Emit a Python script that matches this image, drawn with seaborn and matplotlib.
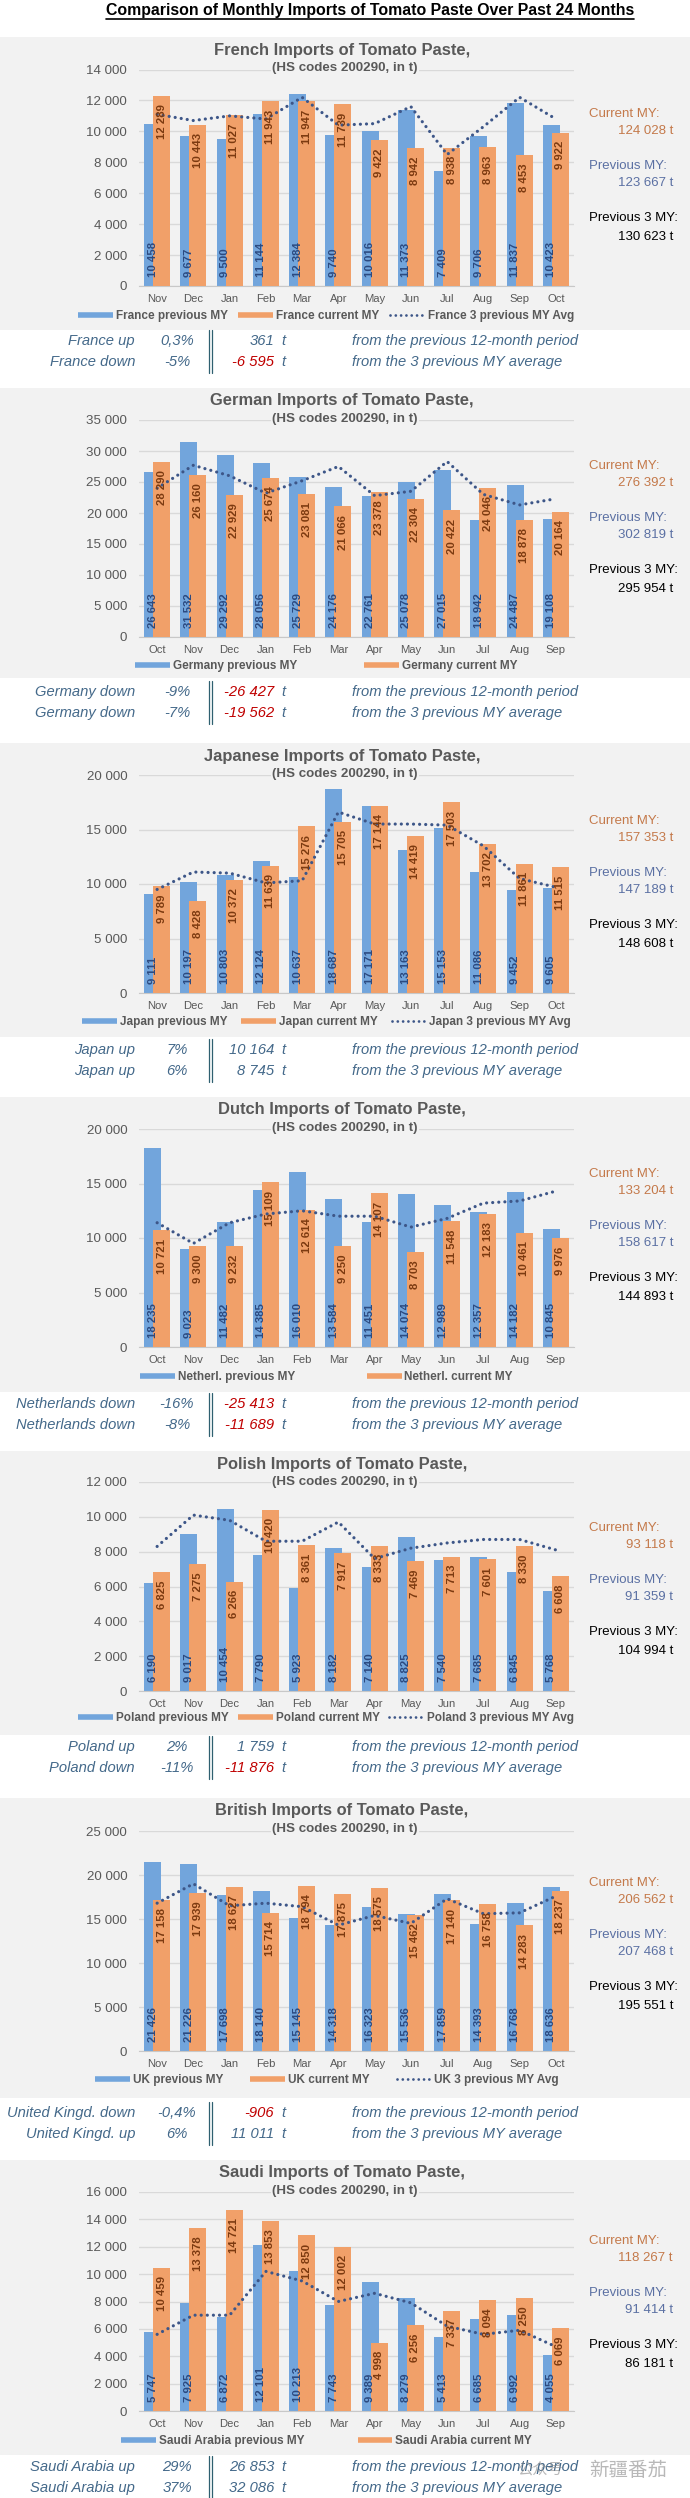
import numpy as np
import matplotlib
matplotlib.use("Agg")
import matplotlib.pyplot as plt
from matplotlib.lines import Line2D
from matplotlib.patches import Rectangle
import seaborn as sns

# ---------------- data ----------------
months_a = ["Nov", "Dec", "Jan", "Feb", "Mar", "Apr", "May", "Jun", "Jul", "Aug", "Sep", "Oct"]
months_b = ["Oct", "Nov", "Dec", "Jan", "Feb", "Mar", "Apr", "May", "Jun", "Jul", "Aug", "Sep"]

france_prev = [10458, 9677, 9500, 11144, 12384, 9740, 10016, 11373, 7409, 9706, 11837, 10423]
france_curr = [12289, 10443, 11027, 11943, 11947, 11739, 9422, 8942, 8938, 8963, 8453, 9922]
france_avg = [11100, 10700, 11000, 10800, 12200, 10400, 10500, 11600, 8500, 10300, 12200, 10800]

germany_prev = [26643, 31532, 29292, 28056, 25729, 24176, 22761, 25078, 27015, 18942, 24487, 19108]
germany_curr = [28290, 26160, 22929, 25674, 23081, 21066, 23378, 22304, 20422, 24046, 18878, 20164]
germany_avg = [24000, 27700, 26000, 23200, 25200, 27500, 22800, 23500, 28300, 23000, 21300, 22300]

japan_prev = [9111, 10197, 10803, 12124, 10637, 18687, 17171, 13163, 15153, 11086, 9452, 9605]
japan_curr = [9789, 8428, 10372, 11639, 15276, 15705, 17144, 14419, 17503, 13702, 11861, 11515]
japan_avg = [9500, 11100, 11000, 10100, 10300, 16600, 15500, 15500, 15400, 13500, 10500, 9700]

neth_prev = [18235, 9023, 11482, 14385, 16010, 13584, 11451, 14074, 12989, 12357, 14182, 10845]
neth_curr = [10721, 9300, 9232, 15109, 12614, 9250, 14107, 8703, 11548, 12183, 10461, 9976]
neth_avg = [11400, 9500, 11400, 12200, 12500, 12000, 12000, 11000, 11800, 13200, 13400, 14300]

poland_prev = [6190, 9017, 10454, 7790, 5923, 8182, 7140, 8825, 7540, 7685, 6845, 5768]
poland_curr = [6825, 7275, 6266, 10420, 8361, 7917, 8333, 7469, 7713, 7601, 8330, 6608]
poland_avg = [8300, 10100, 9800, 8600, 8600, 9700, 7600, 8200, 8500, 8700, 8700, 8100]

uk_prev = [21426, 21226, 17698, 18140, 15145, 14318, 16323, 15536, 17859, 14393, 16768, 18636]
uk_curr = [17158, 17939, 18627, 15714, 18794, 17875, 18575, 15462, 17140, 16758, 14283, 18237]
uk_avg = [16800, 19000, 16500, 16800, 16400, 14300, 15400, 14500, 17300, 15600, 15700, 17600]

saudi_prev = [5747, 7925, 6872, 12101, 10213, 7743, 9389, 8279, 5413, 6685, 6992, 4055]
saudi_curr = [10459, 13378, 14721, 13853, 12850, 12002, 4998, 6256, 7337, 8094, 8250, 6069]
saudi_avg = [5600, 7000, 7000, 10200, 9500, 8000, 8600, 7900, 6200, 5600, 5900, 4700]

titles = ["French Imports of Tomato Paste,", "German Imports of Tomato Paste,",
          "Japanese Imports of Tomato Paste,", "Dutch Imports of Tomato Paste,",
          "Polish Imports of Tomato Paste,", "British Imports of Tomato Paste,",
          "Saudi Imports of Tomato Paste,"]
subtitle = "(HS codes 200290, in t)"
main_title = "Comparison of Monthly Imports of Tomato Paste Over Past 24 Months"

legend_names = [
    ["France previous MY", "France current MY", "France 3 previous MY Avg"],
    ["Germany previous MY", "Germany current MY"],
    ["Japan previous MY", "Japan current MY", "Japan 3 previous MY Avg"],
    ["Netherl. previous MY", "Netherl. current MY"],
    ["Poland previous MY", "Poland current MY", "Poland 3 previous MY Avg"],
    ["UK previous MY", "UK current MY", "UK 3 previous MY Avg"],
    ["Saudi Arabia previous MY", "Saudi Arabia current MY"],
]
totals_current = ["124 028 t", "276 392 t", "157 353 t", "133 204 t", "93 118 t", "206 562 t", "118 267 t"]
totals_previous = ["123 667 t", "302 819 t", "147 189 t", "158 617 t", "91 359 t", "207 468 t", "91 414 t"]
totals_prev3 = ["130 623 t", "295 954 t", "148 608 t", "144 893 t", "104 994 t", "195 551 t", "86 181 t"]

stat_labels = [("France up", "France down"), ("Germany down", "Germany down"),
               ("Japan up", "Japan up"), ("Netherlands down", "Netherlands down"),
               ("Poland up", "Poland down"), ("United Kingd. down", "United Kingd. up"),
               ("Saudi Arabia up", "Saudi Arabia up")]
stat_pcts = [("0,3%", "-5%"), ("-9%", "-7%"), ("7%", "6%"), ("-16%", "-8%"),
             ("2%", "-11%"), ("-0,4%", "6%"), ("29%", "37%")]
stat_values = [("361", "-6 595"), ("-26 427", "-19 562"), ("10 164", "8 745"),
               ("-25 413", "-11 689"), ("1 759", "-11 876"), ("-906", "11 011"),
               ("26 853", "32 086")]
stat_phrases = ("from the previous 12-month period", "from the 3 previous MY average")

y_max = [14000, 35000, 20000, 20000, 12000, 25000, 16000]
y_step = [2000, 5000, 5000, 5000, 2000, 5000, 2000]

panels = [
    (months_a, france_prev, france_curr, france_avg),
    (months_b, germany_prev, germany_curr, germany_avg),
    (months_a, japan_prev, japan_curr, japan_avg),
    (months_b, neth_prev, neth_curr, neth_avg),
    (months_b, poland_prev, poland_curr, poland_avg),
    (months_a, uk_prev, uk_curr, uk_avg),
    (months_b, saudi_prev, saudi_curr, saudi_avg),
]

# ---------------- layout (pixels) ----------------
# gray_top, axis_top, axis_zero, legend_y, gray_bottom, stats_row1, right_text_y, legend left, legend right
layout = [
    (37, 69.5, 286, 316, 330, 341, 114, 78, 574),
    (388, 420, 637, 666, 678, 692, 466, 135, 517),
    (743, 775, 993, 1022, 1037, 1050, 821, 82, 571),
    (1097, 1129, 1347, 1377, 1392, 1404, 1174, 140, 513),
    (1451, 1482, 1691, 1718, 1735, 1747, 1528, 78, 574),
    (1798, 1831, 2051, 2080, 2098, 2113, 1883, 95, 559),
    (2160, 2192, 2411, 2441, 2455, 2467, 2241, 121, 532),
]

W, H = 690, 2498
AX_L, AX_R = 139, 574

BLUE = "#72a5dc"
ORANGE = "#f1a069"
NAVY = "#3d5688"
BLUE_TXT = "#2c4a80"
ORANGE_TXT = "#7c3a10"
GRAY_TXT = "#595959"
PANEL_BG = "#f2f2f2"
STAT = "#44698a"
RED = "#c00000"

NARROW = ["Liberation Sans Narrow", "Liberation Sans", "DejaVu Sans"]
REG = ["Liberation Sans", "DejaVu Sans"]

sns.set_style("white")
plt.rcParams["font.family"] = REG


def fmt(v):
    return f"{int(v):,}".replace(",", " ")


def fx(px):
    return px / W


def fy(py):
    return 1 - py / H


fig = plt.figure(figsize=(W / 100, H / 100), dpi=100)
fig.patch.set_facecolor("white")
renderer = fig.canvas.get_renderer()


def fit_size(s, target, base=10.0, **kw):
    t = fig.text(0, 0, s, fontsize=base, **kw)
    w = t.get_window_extent(renderer=renderer).width
    t.remove()
    return base * target / w


FS_MAIN = fit_size(main_title, 528, fontweight="bold", family=NARROW)
FS_TITLE = fit_size(titles[0], 257, fontweight="bold", family=REG)
FS_SUB = fit_size(subtitle, 145, fontweight="bold", family=REG)
FS_STAT = fit_size(stat_phrases[0], 227, style="italic", family=REG)
FS_RIGHT = fit_size("Current MY:", 71, family=REG)
FS_LABEL = fit_size("10 458", 35, fontweight="bold", family=REG)
FS_TICK = fit_size("14 000", 41, family=REG)
FS_MONTH = fit_size("Nov", 20, family=REG)
FS_LEG = fit_size(legend_names[0][0], 112, fontweight="bold", family=REG)

BW = 0.47
OFF = 0.125

for k, (months, prev, curr, avg) in enumerate(panels):
    gtop, atop, azero, leg_y, gbot, row1, rt_y, lg_l, lg_r = layout[k]

    fig.add_artist(Rectangle((0, fy(gbot)), 1, (gbot - gtop) / H, transform=fig.transFigure,
                             facecolor=PANEL_BG, edgecolor="none", zorder=-5))

    ax = fig.add_axes([fx(AX_L), fy(azero), fx(AX_R) - fx(AX_L), (azero - atop) / H])
    ax.set_facecolor("none")

    idx = np.arange(len(months))
    sns.barplot(x=idx - OFF, y=prev, native_scale=True, width=BW, color=BLUE, saturation=1,
                errorbar=None, linewidth=0, ax=ax, zorder=2)
    sns.barplot(x=idx + OFF, y=curr, native_scale=True, width=BW, color=ORANGE, saturation=1,
                errorbar=None, linewidth=0, ax=ax, zorder=3)
    sns.lineplot(x=idx, y=avg, ax=ax, color=NAVY, linewidth=2.3,
                 linestyle=(0, (0.01, 1.9)), dash_capstyle="round", zorder=6)

    for i, v in enumerate(prev):
        ax.annotate(fmt(v), xy=(i - OFF, 0), xytext=(0, 6.5), textcoords="offset points",
                    rotation=90, ha="center", va="bottom", fontsize=FS_LABEL, fontweight="bold",
                    color=BLUE_TXT, zorder=7)
    for i, v in enumerate(curr):
        ax.annotate(fmt(v), xy=(i + OFF, v), xytext=(0, -6), textcoords="offset points",
                    rotation=90, ha="center", va="top", fontsize=FS_LABEL, fontweight="bold",
                    color=ORANGE_TXT, zorder=7)

    ticks = np.arange(0, y_max[k] + 1, y_step[k])
    ax.set_ylim(0, y_max[k])
    ax.set_yticks(ticks)
    ax.set_yticklabels([fmt(t) for t in ticks])
    ax.set_xlim(-0.5, len(months) - 0.5)
    ax.set_xticks(idx)
    ax.set_xticklabels(months)
    ax.tick_params(axis="y", length=0, pad=8.5, labelsize=FS_TICK, labelcolor=GRAY_TXT)
    ax.tick_params(axis="x", length=0, pad=6, labelsize=FS_MONTH, labelcolor=GRAY_TXT)
    ax.yaxis.grid(True, color="#d9d9d9", linewidth=1)
    ax.xaxis.grid(False)
    ax.set_axisbelow(True)
    for s in ["top", "left", "right"]:
        ax.spines[s].set_visible(False)
    ax.spines["bottom"].set_color("#c8c8c8")
    ax.set_xlabel("")
    ax.set_ylabel("")

    handles = [Line2D([0], [0], color=BLUE, lw=4.0, solid_capstyle="butt"),
               Line2D([0], [0], color=ORANGE, lw=4.0, solid_capstyle="butt"),
               Line2D([0], [0], color=NAVY, lw=2.0, linestyle=(0, (0.01, 1.9)),
                      dash_capstyle="round")]
    names = legend_names[k]
    n = len(names)

    def make_leg(cs):
        return ax.legend(handles[:n], names, loc="center left",
                         bbox_to_anchor=(fx(lg_l), fy(leg_y)), bbox_transform=fig.transFigure,
                         ncol=n, frameon=False,
                         prop=dict(family=REG, weight="bold", size=FS_LEG),
                         labelcolor=GRAY_TXT, handlelength=2.95, handletextpad=0.25,
                         columnspacing=cs, borderpad=0, borderaxespad=0)

    cs0 = 1.0
    leg = make_leg(cs0)
    wl = leg.get_window_extent(renderer=renderer).width
    fs_px = FS_LEG * 100 / 72
    cs1 = max(0.2, cs0 + ((lg_r - lg_l) - wl) / (n - 1) / fs_px)
    make_leg(cs1)

    # titles
    fig.text(fx(342), fy(gtop + 13), titles[k], ha="center", va="center", fontsize=FS_TITLE,
             fontweight="bold", color=GRAY_TXT)
    fig.text(fx(345), fy(gtop + 31), subtitle, ha="center", va="center", fontsize=FS_SUB,
             fontweight="bold", color=GRAY_TXT, zorder=8,
             bbox=dict(facecolor=PANEL_BG, edgecolor="none", pad=1.0))

    # right side totals
    fig.text(fx(589), fy(rt_y), "Current MY:", ha="left", va="center", fontsize=FS_RIGHT,
             color="#c4794a")
    fig.text(fx(673), fy(rt_y + 17), totals_current[k], ha="right", va="center",
             fontsize=FS_RIGHT, color="#c4794a")
    fig.text(fx(589), fy(rt_y + 52), "Previous MY:", ha="left", va="center", fontsize=FS_RIGHT,
             color="#5b70a3")
    fig.text(fx(673), fy(rt_y + 69), totals_previous[k], ha="right", va="center",
             fontsize=FS_RIGHT, color="#5b70a3")
    fig.text(fx(589), fy(rt_y + 104), "Previous 3 MY:", ha="left", va="center",
             fontsize=FS_RIGHT, color="black")
    fig.text(fx(673), fy(rt_y + 123), totals_prev3[k], ha="right", va="center",
             fontsize=FS_RIGHT, color="black")

    # stats rows
    for j in range(2):
        yy = row1 + 21 * j
        kw = dict(va="center", fontsize=FS_STAT, style="italic")
        fig.text(fx(135), fy(yy), stat_labels[k][j], ha="right", color=STAT, **kw)
        fig.text(fx(177), fy(yy), stat_pcts[k][j], ha="center", color=STAT, **kw)
        val = stat_values[k][j]
        fig.text(fx(274), fy(yy), val, ha="right",
                 color=RED if val.startswith("-") else STAT, **kw)
        fig.text(fx(281), fy(yy), "t", ha="left", color=STAT, **kw)
        fig.text(fx(352), fy(yy), stat_phrases[j], ha="left", color=STAT, **kw)
    for xl in (209, 212):
        fig.add_artist(Line2D([fx(xl), fx(xl)], [fy(row1 - 11), fy(row1 + 32)],
                              color="#2f6070", lw=0.9, transform=fig.transFigure))

# main title with underline
t = fig.text(fx(370), fy(11), main_title, ha="center", va="center", fontsize=FS_MAIN,
             fontweight="bold", color="black", family=NARROW)
bb = t.get_window_extent(renderer=renderer)
inv = fig.transFigure.inverted()
(x0, y0), (x1, y1) = inv.transform([(bb.x0, bb.y0), (bb.x1, bb.y1)])
fig.add_artist(Line2D([x0, x1], [y0 - 0.0002, y0 - 0.0002], color="black", lw=1.2,
                      transform=fig.transFigure))

# watermark
fig.text(fx(540), fy(2470), "公众号", ha="center", va="center", fontsize=11,
         color="#8a8a8a", alpha=0.6, family=["Noto Sans CJK SC", "DejaVu Sans"])
fig.text(fx(628), fy(2470), "新疆番茄", ha="center", va="center", fontsize=14,
         color="#8a8a8a", alpha=0.6, family=["Noto Sans CJK SC", "DejaVu Sans"])

fig.savefig("out.png", dpi=100, facecolor="white")
